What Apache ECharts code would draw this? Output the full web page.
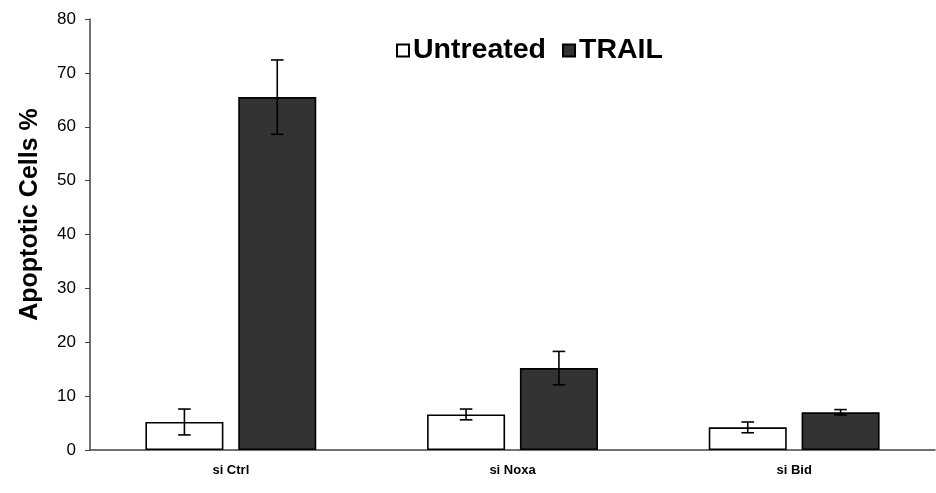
<!DOCTYPE html>
<html>
<head>
<meta charset="utf-8">
<script src="https://cdn.jsdelivr.net/npm/echarts@6/dist/echarts.min.js"></script>
<style>
  html, body { margin: 0; padding: 0; background: #fff; }
  #chart { width: 936px; height: 493px; }
</style>
</head>
<body>
<div id="chart"></div>
<script>
// Apoptosis after siRNA knockdown, with and without TRAIL
const categories = ['si Ctrl', 'si Noxa', 'si Bid'];
const untreated = [5.2, 6.6, 4.2];
const untreatedErr = [2.4, 1.0, 1.0];
const trail = [65.5, 15.2, 7.0];
const trailErr = [6.9, 3.1, 0.5];

const BAR_W = 0.277;   // fraction of category band
const BAR_GAP = 0.19;  // fraction of bar width

const chart = echarts.init(document.getElementById('chart'));

function errorSeries(name, values, errs, side) {
  return {
    type: 'custom',
    name: name + ' error',
    z: 10,
    encode: { x: 0, y: 1 },
    data: values.map((v, i) => [i, v, errs[i]]),
    renderItem: function (params, api) {
      const idx = api.value(0);
      const v = api.value(1);
      const e = api.value(2);
      const band = api.size([1, 0])[0];
      const bw = band * BAR_W;
      const off = side * (bw / 2 + bw * BAR_GAP / 2);
      const x = api.coord([idx, v])[0] + off;
      const top = api.coord([idx, v + e])[1];
      const bot = api.coord([idx, v - e])[1];
      const cap = 6.3;
      const st = { stroke: '#000', lineWidth: 1.6 };
      return {
        type: 'group',
        children: [
          { type: 'line', shape: { x1: x, y1: top, x2: x, y2: bot }, style: st },
          { type: 'line', shape: { x1: x - cap, y1: top, x2: x + cap, y2: top }, style: st },
          { type: 'line', shape: { x1: x - cap, y1: bot, x2: x + cap, y2: bot }, style: st }
        ]
      };
    }
  };
}

chart.setOption({
  animation: false,
  textStyle: { fontFamily: 'Liberation Sans, Arial, sans-serif' },
  grid: { left: 90, right: 1, top: 19, bottom: 43 },
  legend: {
    data: ['Untreated', 'TRAIL'],
    left: 391, top: 31,
    icon: 'rect',
    itemWidth: 12, itemHeight: 12, itemGap: 16,
    textStyle: { fontSize: 28.5, fontWeight: 'bold', color: '#000', padding: [0, 0, 0, -1] }
  },
  xAxis: {
    type: 'category',
    data: categories,
    axisTick: { show: false },
    axisLine: { lineStyle: { color: '#444', width: 1.5 } },
    axisLabel: { color: '#000', fontSize: 13, fontWeight: 'bold', margin: 14 }
  },
  yAxis: {
    type: 'value',
    min: 0, max: 80, interval: 10,
    name: 'Apoptotic Cells %',
    nameLocation: 'middle',
    nameRotate: 90,
    nameGap: 47,
    nameTextStyle: { fontSize: 25, fontWeight: 'bold', color: '#000', padding: [0, 0, 0, 40] },
    axisLine: { show: true, lineStyle: { color: '#444', width: 1.5 } },
    axisTick: { show: true, inside: false, length: 5, lineStyle: { color: '#444' } },
    axisLabel: { color: '#000', fontSize: 17, margin: 14 },
    splitLine: { show: false }
  },
  series: [
    {
      name: 'Untreated', type: 'bar', data: untreated,
      barWidth: (BAR_W * 100) + '%', barGap: (BAR_GAP * 100) + '%',
      itemStyle: { color: '#fff', borderColor: '#000', borderWidth: 1.6 }
    },
    {
      name: 'TRAIL', type: 'bar', data: trail,
      barWidth: (BAR_W * 100) + '%', barGap: (BAR_GAP * 100) + '%',
      itemStyle: { color: '#333', borderColor: '#000', borderWidth: 1.6 }
    },
    errorSeries('Untreated', untreated, untreatedErr, -1),
    errorSeries('TRAIL', trail, trailErr, 1)
  ]
});
</script>
</body>
</html>
